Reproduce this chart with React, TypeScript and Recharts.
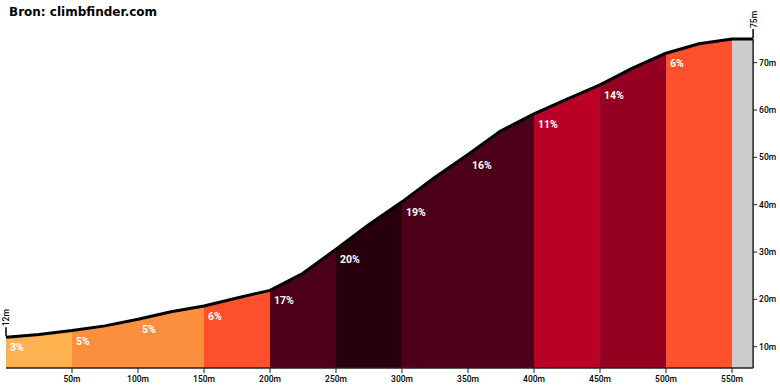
import {
  ComposedChart,
  Area,
  Line,
  XAxis,
  YAxis,
  LabelList,
} from "recharts";

// profile sampled every 25m, last point is the summit
const distances = [
  0, 25, 50, 75, 100, 125, 150, 175, 200, 225, 250, 275, 300, 325, 350, 375,
  400, 425, 450, 475, 500, 525, 550, 566,
];
const elevations = [
  12, 12.6, 13.4, 14.4, 15.8, 17.4, 18.6, 20.3, 21.9, 25.5, 30.6, 35.8, 40.6,
  45.8, 50.6, 55.6, 59.2, 62.3, 65.3, 68.9, 72.0, 74.0, 75.0, 75.0,
];

// 50m sections, the last short one is grey
const sectionStarts = [0, 50, 100, 150, 200, 250, 300, 350, 400, 450, 500, 550];
const sectionEnds = [50, 100, 150, 200, 250, 300, 350, 400, 450, 500, 550, 566];
const grades = ["3%", "5%", "5%", "6%", "17%", "20%", "19%", "16%", "11%", "14%", "6%", ""];
const sectionColors = [
  "#fdb24f",
  "#fb8f3d",
  "#fb8f3d",
  "#fe502a",
  "#4c0019",
  "#28000c",
  "#4c0019",
  "#4c0019",
  "#bb0027",
  "#960020",
  "#fe502a",
  "#cccccc",
];

const xTicks = [50, 100, 150, 200, 250, 300, 350, 400, 450, 500, 550];
const yTicks = [10, 20, 30, 40, 50, 60, 70];

const data = distances.map((d, i) => {
  const row: Record<string, any> = { d, elev: elevations[i] };
  const start = sectionStarts.indexOf(d);
  row.grade = start >= 0 ? grades[start] : null;
  row.edge = i === 0 ? "12m" : i === distances.length - 1 ? "75m" : null;
  sectionStarts.forEach((a, s) => {
    row[`s${s}`] = d >= a && d <= sectionEnds[s] ? elevations[i] : null;
  });
  return row;
});

const GradeLabel = (props: any) => {
  const { x, y, value } = props;
  if (!value) return null;
  return (
    <text
      x={x + 4}
      y={y + 14}
      fill="#fff"
      fontSize={10.5}
      fontWeight={700}
      fontFamily="Roboto, sans-serif"
    >
      {value}
    </text>
  );
};

const EdgeLabel = (props: any) => {
  const { x, y, value } = props;
  if (!value) return null;
  return (
    <g>
      <line x1={x} y1={y - 1} x2={x} y2={y - 10} stroke="#000" strokeWidth={1.5} />
      <text
        x={x + 3.5}
        y={y - 11}
        transform={`rotate(-90 ${x + 3.5} ${y - 11})`}
        fontSize={8.5}
        fontWeight={500}
        fill="#000"
        fontFamily="Roboto, sans-serif"
      >
        {value}
      </text>
    </g>
  );
};

const App = () => {
  return (
    <div style={{ position: "absolute", left: 0, top: 0, width: 780, height: 390, background: "#fff" }}>
      <div
        style={{
          position: "absolute",
          left: 9,
          top: 5,
          fontFamily: "'DejaVu Sans', sans-serif",
          fontWeight: 700,
          fontSize: 12,
          color: "#000",
        }}
      >
        Bron: climbfinder.com
      </div>
      <ComposedChart
        width={780}
        height={390}
        data={data}
        margin={{ top: 39, right: 0, bottom: 0, left: 6 }}
      >
        <XAxis
          dataKey="d"
          type="number"
          domain={[0, 566]}
          ticks={xTicks}
          tickFormatter={(v) => `${v}m`}
          height={22}
          tickSize={5}
          tickMargin={3}
          axisLine={{ stroke: "#222", strokeWidth: 1.5 }}
          tickLine={{ stroke: "#222" }}
          tick={{ fontSize: 8.5, fill: "#000", fontFamily: "Roboto, sans-serif", fontWeight: 500 }}
        />
        <YAxis
          orientation="right"
          type="number"
          domain={[5.5, 75]}
          ticks={yTicks}
          tickFormatter={(v) => `${v}m`}
          width={26.88}
          tickSize={4}
          tickMargin={2}
          axisLine={{ stroke: "#222", strokeWidth: 1.5 }}
          tickLine={{ stroke: "#222" }}
          tick={{ fontSize: 8.5, fill: "#000", fontFamily: "Roboto, sans-serif", fontWeight: 500, textAnchor: "start" }}
        />
        {sectionColors.map((c, s) => (
          <Area
            key={s}
            dataKey={`s${s}`}
            type="linear"
            stroke={c}
            strokeWidth={0.8}
            fill={c}
            fillOpacity={1}
            connectNulls={false}
            isAnimationActive={false}
          />
        ))}
        <Line
          dataKey="elev"
          type="linear"
          stroke="#000"
          strokeWidth={3}
          strokeLinejoin="round"
          dot={false}
          isAnimationActive={false}
        >
          <LabelList dataKey="grade" content={GradeLabel} />
          <LabelList dataKey="edge" content={EdgeLabel} />
        </Line>
      </ComposedChart>
    </div>
  );
};

export default App;
